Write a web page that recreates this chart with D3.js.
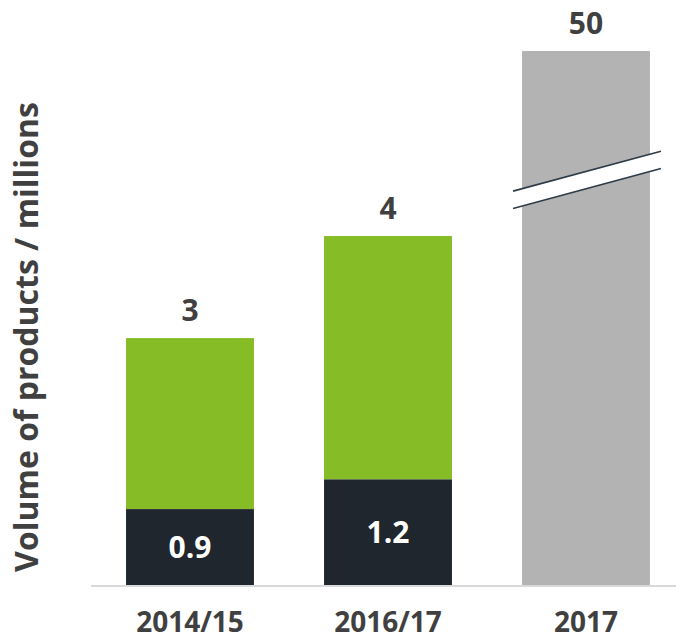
<!DOCTYPE html>
<html>
<head>
<meta charset="utf-8">
<script src="https://cdn.jsdelivr.net/npm/d3@7"></script>
<style>
  html, body { margin: 0; background: #fff; overflow: hidden; }
  svg { display: block; }
  text { font-family: "Open Sans", sans-serif; font-weight: 700; }
</style>
</head>
<body>
<div id="main-vis"></div>
<script>
// data
const categories = ['2014/15', '2016/17', '2017']
const totals = [2.83, 4.0, 50]          // bar heights (millions)
const darkPart = [0.87, 1.21, 0]        // dark bottom segment
const totalLabels = ['3', '4', '50']
const darkLabels = ['0.9', '1.2', '']
const brokenBar = [false, false, true]  // third bar runs past the axis break

const width = 676
const height = 640
const baseY = 585
const axisMax = 6.12    // value shown at the top of the plot (above this bars are cut)
const breakAt = 4.64    // where the break marks sit on the cut bar

const green = '#86bc25'
const dark = '#20262d'
const grey = '#b3b3b3'
const ink = '#404040'

window.onload = setup

function setup () {
    const svg = d3.create('svg')
        .attr('width', width)
        .attr('height', height)

    const x = d3.scaleBand()
        .domain(categories)
        .range([91, 685])
        .paddingInner(0.354)
        .paddingOuter(0.177)

    const y = d3.scaleLinear()
        .domain([0, axisMax])
        .range([baseY, 51])
        .clamp(true)

    const rows = categories.map((c, i) => ({
        cat: c, total: totals[i], dark: darkPart[i],
        tLabel: totalLabels[i], dLabel: darkLabels[i], broken: brokenBar[i]
    }))

    // upper (green / grey) part
    svg.selectAll('rect.top')
        .data(rows)
        .join('rect')
        .attr('class', 'top')
        .attr('x', d => x(d.cat))
        .attr('width', x.bandwidth())
        .attr('y', d => y(d.total))
        .attr('height', d => y(d.dark) - y(d.total))
        .attr('fill', d => d.broken ? grey : green)

    // dark bottom part
    svg.selectAll('rect.bottom')
        .data(rows.filter(d => d.dark > 0))
        .join('rect')
        .attr('class', 'bottom')
        .attr('x', d => x(d.cat))
        .attr('width', x.bandwidth())
        .attr('y', d => y(d.dark))
        .attr('height', d => baseY - y(d.dark))
        .attr('fill', dark)

    // baseline
    svg.append('line')
        .attr('x1', 91).attr('x2', width)
        .attr('y1', baseY + 1).attr('y2', baseY + 1)
        .attr('stroke', '#d9d9d9')
        .attr('stroke-width', 2)

    // axis break on the cut bar
    const slope = -0.27
    const half = 8.7
    rows.filter(d => d.broken).forEach(d => {
        const x0 = x(d.cat) - 9
        const x1 = x(d.cat) + x.bandwidth() + 11
        const cx = x(d.cat) + x.bandwidth() / 2
        const yb = y(breakAt)
        const ly = (xx, off) => yb + off + slope * (xx - cx)
        svg.append('polygon')
            .attr('points', [[x0, ly(x0, -half)], [x1, ly(x1, -half)], [x1, ly(x1, half)], [x0, ly(x0, half)]].join(' '))
            .attr('fill', '#fff')
        ;[-half, half].forEach(off => {
            svg.append('line')
                .attr('x1', x0).attr('y1', ly(x0, off))
                .attr('x2', x1).attr('y2', ly(x1, off))
                .attr('stroke', '#2e3b48')
                .attr('stroke-width', 1.6)
        })
    })

    // total labels above bars
    svg.selectAll('text.total')
        .data(rows)
        .join('text')
        .attr('class', 'total')
        .attr('x', d => x(d.cat) + x.bandwidth() / 2)
        .attr('y', d => y(d.total) - 17)
        .attr('text-anchor', 'middle')
        .attr('font-size', 30)
        .attr('fill', ink)
        .text(d => d.tLabel)

    // labels inside dark part
    svg.selectAll('text.inner')
        .data(rows.filter(d => d.dark > 0))
        .join('text')
        .attr('class', 'inner')
        .attr('x', d => x(d.cat) + x.bandwidth() / 2)
        .attr('y', d => (y(d.dark) + baseY) / 2)
        .attr('dy', '0.36em')
        .attr('text-anchor', 'middle')
        .attr('font-size', 30)
        .attr('fill', '#fff')
        .text(d => d.dLabel)

    // category labels
    svg.selectAll('text.cat')
        .data(categories)
        .join('text')
        .attr('class', 'cat')
        .attr('x', d => x(d) + x.bandwidth() / 2)
        .attr('y', 632)
        .attr('text-anchor', 'middle')
        .attr('font-size', 28)
        .attr('fill', ink)
        .text(d => d)

    // y title
    svg.append('text')
        .attr('transform', 'translate(37.5,337) rotate(-90)')
        .attr('text-anchor', 'middle')
        .attr('font-size', 32)
        .attr('fill', ink)
        .text('Volume of products / millions')

    d3.select('#main-vis').node().appendChild(svg.node())
}
</script>
</body>
</html>
